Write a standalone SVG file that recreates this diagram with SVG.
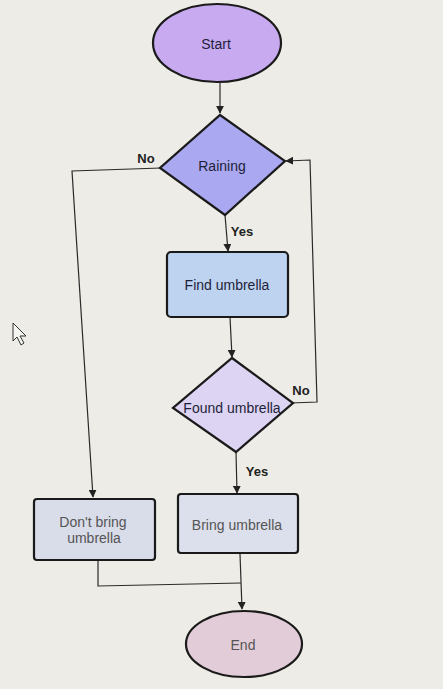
<svg xmlns="http://www.w3.org/2000/svg" width="443" height="689" viewBox="0 0 443 689">
<defs>
<marker id="arr" viewBox="0 0 10 10" refX="9" refY="5" markerWidth="8" markerHeight="8" orient="auto" markerUnits="userSpaceOnUse">
<path d="M0,0 L10,5 L0,10 Z" fill="#222"/>
</marker>
<style>
.bg{fill:#edece6}
.shape{stroke:#1a1a1a;stroke-width:2.2}
.conn{fill:none;stroke:#2a2a2a;stroke-width:1.2}
.arrow{marker-end:url(#arr)}
text{font-family:"Liberation Sans",Arial,sans-serif;font-size:14px;fill:#1f1f3a;text-anchor:middle;dominant-baseline:central}
.lbl{font-weight:bold;fill:#222;font-size:13px}
.light{fill:#555}
</style>
</defs>
<rect class="bg" x="0" y="0" width="443" height="689"/>
<g id="connectors">
<path class="conn arrow" d="M220,83 L220,113"/>
<path class="conn arrow" d="M161,168 L72,171 L93,497"/>
<path class="conn arrow" d="M225,215 L228,251"/>
<path class="conn arrow" d="M230,317 L232,357"/>
<path class="conn arrow" d="M236,452 L237,493"/>
<path class="conn arrow" d="M291,403 L317,402 L310,160 L286,161"/>
<path class="conn" d="M98,561 L98,586 L241,583"/>
<path class="conn arrow" d="M240,554 L242,609"/>
<text class="lbl" x="146" y="158">No</text>
<text class="lbl" x="242" y="231">Yes</text>
<text class="lbl" x="301" y="390">No</text>
<text class="lbl" x="257" y="471">Yes</text>
</g>
<g id="start">
<ellipse class="shape" cx="217" cy="43" rx="64" ry="39" fill="#c7aaf0"/>
<text x="216" y="44">Start</text>
</g>
<g id="raining">
<polygon class="shape" points="220,115 285,161 225,215 160,168" fill="#a9a8f0"/>
<text x="222" y="166">Raining</text>
</g>
<g id="find-umbrella">
<rect class="shape" x="167" y="252" width="121" height="65" rx="4" fill="#bdd3f0"/>
<text x="227" y="285">Find umbrella</text>
</g>
<g id="found-umbrella">
<polygon class="shape" points="232,358 293,403 236,452 173,408" fill="#dcd4f2"/>
<text x="232" y="408">Found umbrella</text>
</g>
<g id="dont-bring">
<rect class="shape" x="34" y="499" width="121" height="61" rx="3" fill="#d9dce9"/>
<text x="93" y="522" class="light">Don't bring</text>
<text x="94" y="538" class="light">umbrella</text>
</g>
<g id="bring-umbrella">
<rect class="shape" x="178" y="494" width="120" height="59" rx="3" fill="#dcdfec"/>
<text x="237" y="525" class="light">Bring umbrella</text>
</g>
<g id="end">
<ellipse class="shape" cx="244" cy="644" rx="58" ry="33" fill="#e2ccd8"/>
<text x="243" y="645" class="light">End</text>
</g>
<polygon points="13,323 13,341 17,337 21,345 24,343 20,336 26,336" fill="#f4f4f0" stroke="#333" stroke-width="1"/>
</svg>
